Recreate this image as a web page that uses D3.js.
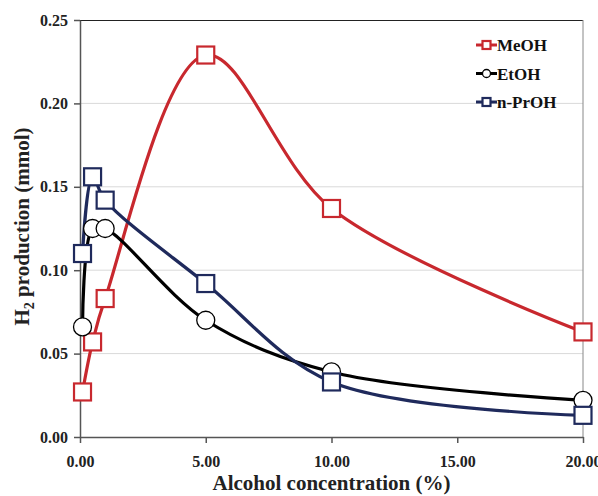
<!DOCTYPE html>
<html>
<head>
<meta charset="utf-8">
<script src="https://cdn.jsdelivr.net/npm/d3@7"></script>
<style>
  body { margin: 0; background: #fff; }
  text { font-family: "Liberation Serif", "Times New Roman", serif; font-weight: bold; }
</style>
</head>
<body>
<svg id="chart" width="598" height="496"></svg>
<script>
// data
var conc = [0.1, 0.5, 1, 5, 10, 20];
var meoh = [0.027, 0.057, 0.083, 0.229, 0.137, 0.063];
var etoh = [0.066, 0.125, 0.125, 0.070, 0.039, 0.022];
var prop = [0.110, 0.156, 0.142, 0.092, 0.033, 0.013];
var seriesNames = ["MeOH", "EtOH", "n-PrOH"];
var xTicks = [0, 5, 10, 15, 20];
var yTicks = [0, 0.05, 0.10, 0.15, 0.20, 0.25];

var margin = { top: 20, right: 15, bottom: 59, left: 80 };
var width = 598 - margin.left - margin.right,
    height = 496 - margin.top - margin.bottom;

var svg = d3.select("svg#chart")
  .append("g")
  .attr("transform", "translate(" + margin.left + "," + margin.top + ")");

var x = d3.scaleLinear().domain([0, 20]).range([0, width]);
var y = d3.scaleLinear().domain([0, 0.25]).range([height, 0]);

// gridlines
svg.selectAll(".grid")
  .data(yTicks.slice(1, -1))
  .enter().append("line")
  .attr("x1", 0).attr("x2", width)
  .attr("y1", function (d) { return y(d); })
  .attr("y2", function (d) { return y(d); })
  .attr("stroke", "#d9d9d9").attr("stroke-width", 1);

// frame: top dark, right grey
svg.append("line").attr("x1", 0).attr("x2", width).attr("y1", 0.5).attr("y2", 0.5)
  .attr("stroke", "#222").attr("stroke-width", 1.2);
svg.append("line").attr("x1", width).attr("x2", width).attr("y1", 0).attr("y2", height)
  .attr("stroke", "#888").attr("stroke-width", 1);

// axes
var xAxis = svg.append("g")
  .attr("transform", "translate(0," + height + ")")
  .call(d3.axisBottom(x).tickValues(xTicks).tickFormat(d3.format(".2f")).tickSize(6).tickSizeOuter(0));
var yAxis = svg.append("g")
  .call(d3.axisLeft(y).tickValues(yTicks).tickFormat(d3.format(".2f")).tickSize(6).tickSizeOuter(0));

[xAxis, yAxis].forEach(function (a) {
  a.select(".domain").attr("stroke", "#555").attr("stroke-width", 1.5);
  a.selectAll(".tick line").attr("stroke", "#555").attr("stroke-width", 1.5);
  a.selectAll(".tick text")
    .style("font-family", "Liberation Serif, serif")
    .style("font-weight", "bold")
    .style("font-size", "16px")
    .attr("fill", "#222");
});
xAxis.selectAll(".tick text").attr("dy", "1.3em");
yAxis.selectAll(".tick text").attr("x", -12);

// axis titles
svg.append("text")
  .attr("x", width / 2).attr("y", height + 53)
  .attr("text-anchor", "middle")
  .style("font-size", "21px")
  .attr("fill", "#222")
  .text("Alcohol concentration (%)");

var yl = svg.append("text")
  .attr("transform", "translate(-51," + (height / 2 - 2) + ") rotate(-90)")
  .attr("text-anchor", "middle")
  .style("font-size", "21px")
  .attr("fill", "#222");
yl.append("tspan").text("H");
yl.append("tspan").attr("dy", 5).style("font-size", "14px").text("2");
yl.append("tspan").attr("dy", -5).text(" production (mmol)");

var series = [
  { name: seriesNames[0], values: meoh, color: "#c8282e", shape: "square" },
  { name: seriesNames[1], values: etoh, color: "#000000", shape: "circle" },
  { name: seriesNames[2], values: prop, color: "#1f2a5c", shape: "square" }
];

var line = d3.line()
  .x(function (d) { return x(d[0]); })
  .y(function (d) { return y(d[1]); })
  .curve(d3.curveCatmullRom.alpha(0.5));

series.forEach(function (s) {
  var pts = conc.map(function (c, i) { return [c, s.values[i]]; });
  svg.append("path")
    .datum(pts)
    .attr("fill", "none")
    .attr("stroke", s.color)
    .attr("stroke-width", 3.2)
    .attr("d", line);
});

function drawMarker(g, s, cx, cy, size) {
  if (s.shape === "square") {
    g.append("rect")
      .attr("x", cx - size / 2).attr("y", cy - size / 2)
      .attr("width", size).attr("height", size)
      .attr("fill", "#fff").attr("stroke", s.color).attr("stroke-width", 2.2);
  } else {
    g.append("circle")
      .attr("cx", cx).attr("cy", cy).attr("r", size / 2)
      .attr("fill", "#fff").attr("stroke", s.color).attr("stroke-width", 1.3);
  }
}

series.forEach(function (s) {
  var g = svg.append("g");
  conc.forEach(function (c, i) {
    drawMarker(g, s, x(c), y(s.values[i]), s.shape === "square" ? 17 : 18);
  });
});

// legend
var legend = svg.append("g").attr("transform", "translate(" + (476 - margin.left) + "," + (45 - margin.top) + ")");
series.forEach(function (s, i) {
  var g = legend.append("g").attr("transform", "translate(0," + (i * 28.5) + ")");
  g.append("line").attr("x1", 0).attr("x2", 21).attr("y1", 0).attr("y2", 0)
    .attr("stroke", s.color).attr("stroke-width", 3);
  drawMarker(g, s, 10.5, 0, 8);
  g.append("text")
    .attr("x", 21).attr("y", 6)
    .style("font-size", "17px")
    .attr("fill", "#111")
    .text(s.name);
});
</script>
</body>
</html>
